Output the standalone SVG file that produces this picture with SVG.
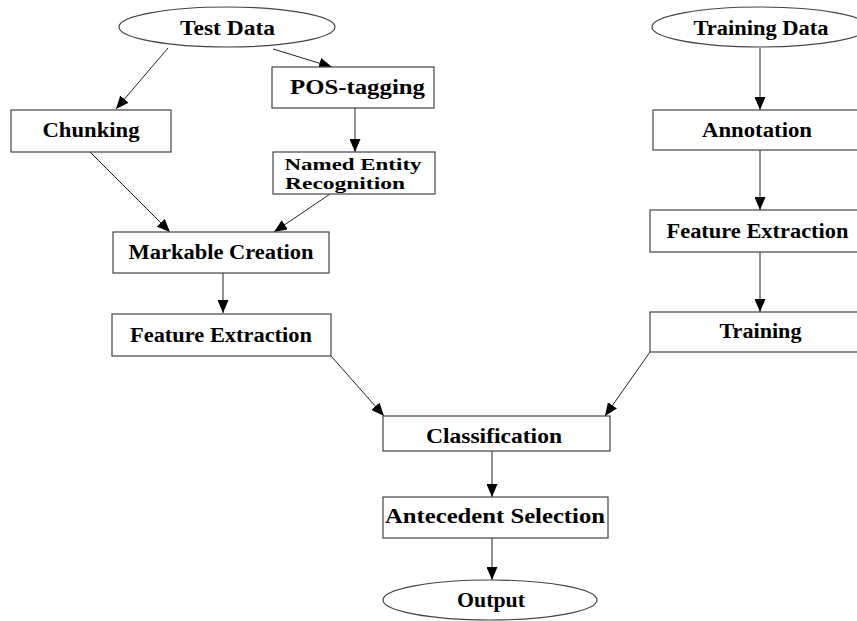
<svg xmlns="http://www.w3.org/2000/svg" width="857" height="621" viewBox="0 0 857 621">
<defs>
<marker id="ah" viewBox="0 0 13 11" refX="13" refY="5.5" markerWidth="13" markerHeight="11" markerUnits="userSpaceOnUse" orient="auto">
<path d="M0,0 L13,5.5 L0,11 Z" fill="#000"/>
</marker>
</defs>
<style>
.n{fill:#fff;stroke:#444;stroke-width:1.2}
.t{font-family:"Liberation Serif","Times New Roman",serif;font-weight:bold;font-size:20px;text-anchor:middle;fill:#000}
.s{font-size:17px}
.c{stroke:#222;stroke-width:1;fill:none;marker-end:url(#ah)}
</style>
<rect width="857" height="621" fill="#fff"/>
<g id="connectors">
<line class="c" x1="168" y1="48" x2="116" y2="109"/>
<line class="c" x1="273" y1="49" x2="332" y2="67"/>
<line class="c" x1="355" y1="108" x2="355" y2="152"/>
<line class="c" x1="90" y1="152" x2="170" y2="232"/>
<line class="c" x1="330" y1="194" x2="274" y2="232"/>
<line class="c" x1="223" y1="273" x2="223" y2="313"/>
<line class="c" x1="331" y1="356" x2="384" y2="416"/>
<line class="c" x1="650" y1="352" x2="605" y2="416"/>
<line class="c" x1="492" y1="451" x2="492" y2="497"/>
<line class="c" x1="492" y1="538" x2="492" y2="580"/>
<line class="c" x1="760" y1="48" x2="760" y2="110"/>
<line class="c" x1="760" y1="150" x2="760" y2="210"/>
<line class="c" x1="760" y1="252" x2="760" y2="312"/>
</g>
<g id="test-data"><ellipse class="n" cx="227" cy="27" rx="108" ry="20"/><text class="t" x="227.5" y="35" textLength="95" lengthAdjust="spacingAndGlyphs">Test Data</text></g>
<g id="chunking"><rect class="n" x="11" y="110" width="160" height="42"/><text class="t" x="91" y="137" textLength="97" lengthAdjust="spacingAndGlyphs">Chunking</text></g>
<g id="pos-tagging"><rect class="n" x="272" y="67" width="162" height="41"/><text class="t" x="357.5" y="94" textLength="135" lengthAdjust="spacingAndGlyphs">POS-tagging</text></g>
<g id="ner"><rect class="n" x="273" y="152" width="162" height="42"/><text class="t s" x="353" y="170" textLength="137" lengthAdjust="spacingAndGlyphs">Named Entity</text><text class="t s" x="345" y="189" textLength="120" lengthAdjust="spacingAndGlyphs">Recognition</text></g>
<g id="markable-creation"><rect class="n" x="113" y="232" width="216" height="41"/><text class="t" x="221" y="259" textLength="185" lengthAdjust="spacingAndGlyphs">Markable Creation</text></g>
<g id="feature-extraction-test"><rect class="n" x="112" y="314" width="219" height="42"/><text class="t" x="221" y="342" textLength="182" lengthAdjust="spacingAndGlyphs">Feature Extraction</text></g>
<g id="classification"><rect class="n" x="383" y="416" width="227" height="35"/><text class="t" x="494" y="443" textLength="136" lengthAdjust="spacingAndGlyphs">Classification</text></g>
<g id="antecedent-selection"><rect class="n" x="383" y="497" width="225" height="41"/><text class="t" x="495" y="523" textLength="220" lengthAdjust="spacingAndGlyphs">Antecedent Selection</text></g>
<g id="output"><ellipse class="n" cx="490" cy="600" rx="107" ry="20"/><text class="t" x="491" y="607" textLength="68" lengthAdjust="spacingAndGlyphs">Output</text></g>
<g id="training-data"><ellipse class="n" cx="760" cy="27" rx="108" ry="20"/><text class="t" x="761" y="35" textLength="135" lengthAdjust="spacingAndGlyphs">Training Data</text></g>
<g id="annotation"><rect class="n" x="653" y="110" width="220" height="40"/><text class="t" x="757" y="137" textLength="110" lengthAdjust="spacingAndGlyphs">Annotation</text></g>
<g id="feature-extraction-train"><rect class="n" x="650" y="210" width="220" height="42"/><text class="t" x="757.5" y="238" textLength="182" lengthAdjust="spacingAndGlyphs">Feature Extraction</text></g>
<g id="training"><rect class="n" x="650" y="312" width="220" height="40"/><text class="t" x="760.5" y="338" textLength="82" lengthAdjust="spacingAndGlyphs">Training</text></g>
</svg>
